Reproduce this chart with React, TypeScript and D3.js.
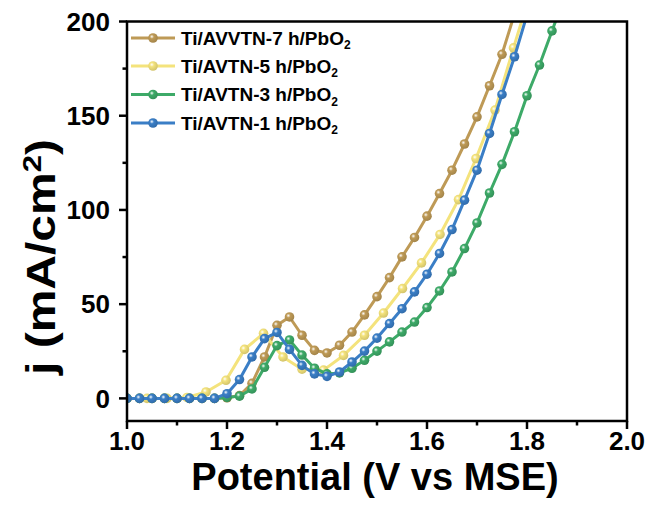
import React from "react";
import * as d3 from "d3";

// ---- data ----
const potentialGrid = [
  1.0, 1.025, 1.05, 1.075, 1.1, 1.125, 1.15, 1.175, 1.2, 1.225, 1.25, 1.275,
  1.3, 1.325, 1.35, 1.375, 1.4, 1.425, 1.45, 1.475, 1.5, 1.525, 1.55, 1.575,
  1.6, 1.625, 1.65, 1.675, 1.7, 1.725, 1.75, 1.775, 1.8, 1.825, 1.85, 1.875,
];

const jAVVTN7 = [
  0, 0, 0, 0, 0, 0, 0, 0, 0.3, 1.5, 8, 22, 38.8, 43.2, 33.5, 25.5, 24.1, 28.2,
  35.2, 44.3, 54, 64.1, 75.1, 85.4, 96.7, 108.7, 121.1, 135, 149.4, 165.9,
  182.6, 204,
];

const potentialAVTN5 = [
  1.0, 1.04, 1.08, 1.12, 1.158, 1.198, 1.235, 1.273, 1.312, 1.35, 1.393, 1.433,
  1.475, 1.513, 1.551, 1.589, 1.626, 1.663, 1.698, 1.736, 1.773, 1.81,
];
const jAVTN5 = [
  0, 0, 0, 0.5, 3.4, 9.6, 26, 34.5, 22, 15.5, 15, 22.8, 33.5, 45.3, 58.3, 71.9,
  87, 105.5, 127.3, 153, 186, 218,
];

const jAVTN3 = [
  0, 0, 0, 0, 0, 0, 0, 0, 0.5, 1.2, 5, 16.5, 28, 31, 23, 16, 13, 13.5, 16, 20.2,
  25.1, 30, 35.2, 40.5, 48.2, 57, 67.1, 79.5, 93.1, 109, 124.2, 141.5, 160.6,
  176.9, 195, 213,
];

const jAVTN1 = [
  0, 0, 0, 0, 0, 0, 0, 0, 2.5, 10, 22, 31.7, 35, 26, 17.5, 13, 11.7, 14, 19.3,
  25.1, 32, 39.7, 47.6, 56.5, 65.9, 76.9, 89.6, 105.2, 121.1, 140.6, 161.3,
  181.3, 203.5,
];

const seriesNames = [
  "Ti/AVVTN-7 h/PbO",
  "Ti/AVTN-5 h/PbO",
  "Ti/AVTN-3 h/PbO",
  "Ti/AVTN-1 h/PbO",
];
const seriesColors = ["#BE9A56", "#F4E37C", "#3DAA68", "#3A7EC6"];

const xTicks = [1.0, 1.2, 1.4, 1.6, 1.8, 2.0];
const xMinor = [1.1, 1.3, 1.5, 1.7, 1.9];
const yTicks = [0, 50, 100, 150, 200];
const yMinor = [25, 75, 125, 175];

const FONT = "Arial, 'Liberation Sans', Helvetica, sans-serif";

export default function App() {
  const W = 652;
  const H = 513;
  const left = 127;
  const right = 627;
  const top = 21.5;
  const bottom = 421;

  const x = d3.scaleLinear().domain([1.0, 2.0]).range([left, right]);
  const y = d3.scaleLinear().domain([-12, 200]).range([bottom, top]);

  const build = (xs: number[], ys: number[]) =>
    ys.map((v, i) => ({ x: xs[i], y: v }));

  const series = [
    build(potentialGrid, jAVVTN7),
    build(potentialAVTN5, jAVTN5),
    build(potentialGrid, jAVTN3),
    build(potentialGrid, jAVTN1),
  ];

  const line = d3
    .line<{ x: number; y: number }>()
    .x((d) => x(d.x))
    .y((d) => y(d.y));

  const legendRows = [38, 66, 94.5, 123];

  return (
    <svg
      width={W}
      height={H}
      style={{ position: "absolute", left: 0, top: 0, background: "#fff" }}
    >
      <defs>
        <clipPath id="plotClip">
          <rect x={left} y={top} width={right - left} height={bottom - top} />
        </clipPath>
        {seriesColors.map((c, i) => (
          <radialGradient key={i} id={`ball${i}`} cx="38%" cy="36%" r="62%">
            <stop offset="0%" stopColor="#ffffff" stopOpacity={0.95} />
            <stop offset="35%" stopColor={c} stopOpacity={1} />
            <stop offset="100%" stopColor={d3.color(c)!.darker(0.4).formatHex()} />
          </radialGradient>
        ))}
      </defs>
      <rect x={0} y={0} width={W} height={H} fill="#fff" />

      <g clipPath="url(#plotClip)">
        {series.map((s, i) => (
          <g key={i}>
            <path
              d={line(s) || ""}
              fill="none"
              stroke={seriesColors[i]}
              strokeWidth={3}
              strokeLinejoin="round"
            />
            {s.map((d, k) => (
              <circle
                key={k}
                cx={x(d.x)}
                cy={y(d.y)}
                r={4.8}
                fill={`url(#ball${i})`}
              />
            ))}
          </g>
        ))}
      </g>

      {/* frame */}
      <rect
        x={left}
        y={top}
        width={right - left}
        height={bottom - top}
        fill="none"
        stroke="#000"
        strokeWidth={2.5}
      />

      {/* x ticks */}
      {xTicks.map((t) => (
        <g key={`xt${t}`}>
          <line x1={x(t)} x2={x(t)} y1={bottom} y2={bottom + 8} stroke="#000" strokeWidth={2.5} />
          <text
            x={x(t)}
            y={450}
            textAnchor="middle"
            fontFamily={FONT}
            fontWeight="bold"
            fontSize={26}
          >
            {t.toFixed(1)}
          </text>
        </g>
      ))}
      {xMinor.map((t) => (
        <line key={`xm${t}`} x1={x(t)} x2={x(t)} y1={bottom} y2={bottom + 4.5} stroke="#000" strokeWidth={2.5} />
      ))}

      {/* y ticks */}
      {yTicks.map((t) => (
        <g key={`yt${t}`}>
          <line x1={left - 8} x2={left} y1={y(t)} y2={y(t)} stroke="#000" strokeWidth={2.5} />
          <text
            x={110}
            y={y(t) + 9.3}
            textAnchor="end"
            fontFamily={FONT}
            fontWeight="bold"
            fontSize={26}
          >
            {t}
          </text>
        </g>
      ))}
      {yMinor.map((t) => (
        <line key={`ym${t}`} x1={left - 4.5} x2={left} y1={y(t)} y2={y(t)} stroke="#000" strokeWidth={2.5} />
      ))}

      {/* axis titles */}
      <text
        x={375}
        y={490}
        textAnchor="middle"
        fontFamily={FONT}
        fontWeight="bold"
        fontSize={38}
      >
        Potential (V vs MSE)
      </text>
      <g transform={`translate(55, 257) rotate(-90) scale(1.2, 1)`}>
        <text
          textAnchor="middle"
          fontFamily={FONT}
          fontWeight="bold"
          fontSize={40}
        >
          j (mA/cm
          <tspan dy={-14} fontSize={26}>2</tspan>
          <tspan dy={14}>)</tspan>
        </text>
      </g>

      {/* legend */}
      {seriesNames.map((name, i) => (
        <g key={name}>
          <line
            x1={131}
            x2={175}
            y1={legendRows[i]}
            y2={legendRows[i]}
            stroke={seriesColors[i]}
            strokeWidth={3}
          />
          <circle cx={153} cy={legendRows[i]} r={4.8} fill={`url(#ball${i})`} />
          <text
            x={181}
            y={legendRows[i] + 6.5}
            fontFamily={FONT}
            fontWeight="bold"
            fontSize={19}
          >
            {name}
            <tspan dy={4.5} fontSize={12}>2</tspan>
          </text>
        </g>
      ))}
    </svg>
  );
}
